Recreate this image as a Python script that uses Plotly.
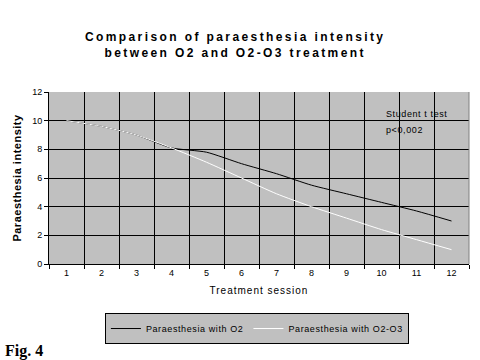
import plotly.graph_objects as go

sessions = [str(i) for i in range(1, 13)]
o2 = [10, 9.6, 9.0, 8.1, 7.8, 7.0, 6.3, 5.5, 4.9, 4.3, 3.7, 3.0]
o2o3 = [10, 9.6, 9.0, 8.1, 7.1, 6.0, 4.9, 4.0, 3.2, 2.4, 1.7, 1.0]
yticks = [0, 2, 4, 6, 8, 10, 12]

FONT = "Liberation Sans"

def spaced(t, px):
    return f'<span style="letter-spacing:{px}px">{t}</span>'

fig = go.Figure()
fig.add_trace(go.Scatter(x=sessions, y=o2, mode="lines", name=spaced("Paraesthesia with O2", 0.6),
                         line=dict(color="black", width=1, shape="spline", smoothing=0.6)))
fig.add_trace(go.Scatter(x=sessions, y=o2o3, mode="lines", name=spaced("Paraesthesia with O2-O3", 0.6),
                         line=dict(color="white", width=1, shape="spline", smoothing=0.6)))

fig.update_layout(
    width=480, height=360,
    margin=dict(l=49, r=11, t=92, b=96),
    paper_bgcolor="white", plot_bgcolor="#C0C0C0",
    font=dict(family=FONT, size=9, color="black"),
    title=dict(
        text=spaced("<b>Comparison of paraesthesia intensity<br>between O2 and O2-O3 treatment</b>", 2.4),
        x=0.49, xanchor="center", y=0.885, yanchor="top",
        font=dict(family=FONT, size=12, color="black")),
    showlegend=True,
    legend=dict(orientation="h", x=0.495, xanchor="center", y=-0.285, yanchor="top",
                bgcolor="#C0C0C0", bordercolor="black", borderwidth=1,
                font=dict(family=FONT, size=9, color="black"), itemwidth=30),
)
fig.update_xaxes(type="category", range=[-0.5, 11.5], tickson="boundaries", ticks="outside", ticklen=4,
                 tickcolor="black", showgrid=True, gridcolor="black", gridwidth=1,
                 showline=True, linecolor="black", mirror=False,
                 tickfont=dict(size=9),
                 title=dict(text=spaced("Treatment session", 1), font=dict(size=10), standoff=10))
fig.update_yaxes(range=[0, 12], tickvals=yticks, ticks="outside", ticklen=4, tickcolor="black",
                 showgrid=True, gridcolor="black", gridwidth=1, zeroline=False,
                 showline=True, linecolor="black",
                 tickfont=dict(size=9),
                 title=dict(text=spaced("<b>Paraesthesia intensity</b>", 0.5), font=dict(size=11), standoff=8))
# right gray border of the plot area
fig.add_shape(type="line", xref="paper", yref="paper", x0=1, x1=1, y0=0, y1=1,
              line=dict(color="#808080", width=1))
fig.add_annotation(text=spaced("Student t test", 0.6), xref="paper", yref="paper",
                   x=0.797, y=0.915, xanchor="left", yanchor="top", showarrow=False, align="left",
                   font=dict(family=FONT, size=9, color="black"))
fig.add_annotation(text=spaced("p<0,002", 0.6), xref="paper", yref="paper",
                   x=0.797, y=0.82, xanchor="left", yanchor="top", showarrow=False, align="left",
                   font=dict(family=FONT, size=9, color="black"))
fig.add_annotation(text="<b>Fig. 4</b>", xref="paper", yref="paper",
                   x=-0.11, y=-0.44, xanchor="left", yanchor="top", showarrow=False,
                   font=dict(family="Liberation Serif", size=16, color="black"))

fig.write_html("out.html", config={"displayModeBar": False},
               post_script="document.body.style.margin='0';document.body.style.padding='0';")
